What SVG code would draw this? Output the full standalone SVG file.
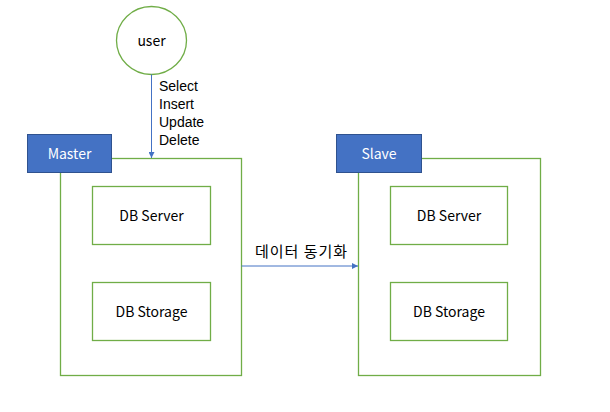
<svg xmlns="http://www.w3.org/2000/svg" width="610" height="412" viewBox="0 0 610 412">
<defs>
<style>
.g{fill:#fff;stroke:#70AD47;stroke-width:1.3}
.t{font-family:"Noto Sans CJK KR","Liberation Sans",sans-serif;font-size:14px;fill:#000}
.l{font-family:"Liberation Sans",Arial,sans-serif;font-size:14px;fill:#000}
.c{text-anchor:middle;dominant-baseline:central}
.h{fill:#4472C4;stroke:#2F528F;stroke-width:1}
.w{fill:#fff}
.e{stroke:#4472C4;stroke-width:1;fill:none}
</style>
<marker id="a" viewBox="0 0 6 6" refX="6" refY="3" markerWidth="6" markerHeight="6" orient="auto" markerUnits="userSpaceOnUse">
<path d="M0,0 L6,3 L0,6 z" fill="#4472C4"/>
</marker>
</defs>
<rect width="610" height="412" fill="#fff"/>
<g id="master">
<rect class="g" x="60.5" y="158.5" width="181" height="217"/>
<rect class="h" x="27.5" y="134.5" width="84" height="38"/>
<text class="t c w" x="69.5" y="152.5">Master</text>
</g>
<g id="master-server">
<rect class="g" x="92.5" y="186.5" width="118" height="58"/>
<text class="t c" x="151.5" y="214.5">DB Server</text>
</g>
<g id="master-storage">
<rect class="g" x="92.5" y="282.5" width="118" height="58"/>
<text class="t c" x="151.5" y="310.5">DB Storage</text>
</g>
<g id="slave">
<rect class="g" x="358.5" y="158.5" width="182" height="217"/>
<rect class="h" x="336.5" y="134.5" width="85" height="38"/>
<text class="t c w" x="379" y="152.5">Slave</text>
</g>
<g id="slave-server">
<rect class="g" x="390.5" y="186.5" width="117" height="58"/>
<text class="t c" x="449" y="214.5">DB Server</text>
</g>
<g id="slave-storage">
<rect class="g" x="390.5" y="282.5" width="117" height="58"/>
<text class="t c" x="449" y="310.5">DB Storage</text>
</g>
<g id="user">
<ellipse class="g" cx="151.5" cy="40.5" rx="35" ry="34"/>
<text class="t c" x="151.5" y="40">user</text>
</g>
<g id="connectors">
<path class="e" d="M151.5,74.5 V158" marker-end="url(#a)"/>
<text class="l" x="159" y="91">Select</text>
<text class="l" x="159" y="109">Insert</text>
<text class="l" x="159" y="127">Update</text>
<text class="l" x="159" y="145">Delete</text>
<path class="e" d="M241.5,266 H358" marker-end="url(#a)"/>
<text class="t c" x="301.5" y="250" style="font-size:15px;letter-spacing:1px">데이터 동기화</text>
</g>
</svg>
